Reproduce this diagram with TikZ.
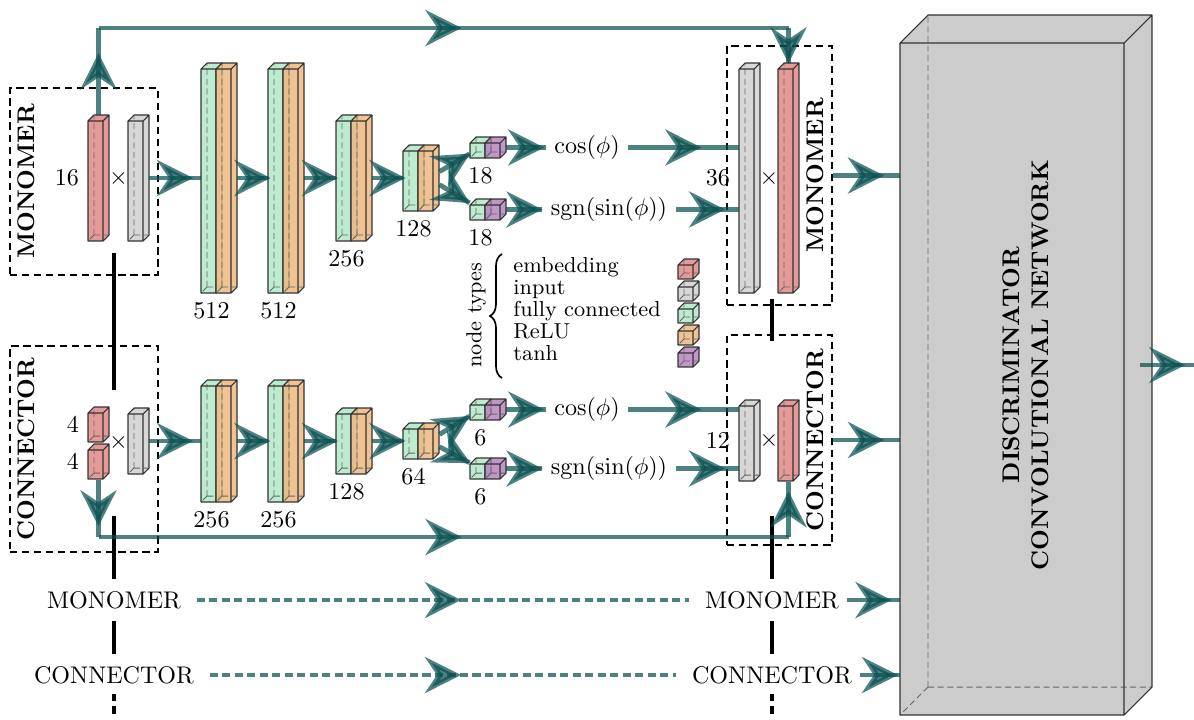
\documentclass[tikz,border=0pt]{standalone}
\usepackage{amsmath}
\usepackage{xcolor}
\usetikzlibrary{arrows.meta, positioning, fit, calc, decorations.markings, decorations.pathreplacing}

\definecolor{edgecol}{RGB}{10,80,80}
\definecolor{embcol}{RGB}{225,135,135}
\definecolor{inpcol}{RGB}{208,208,208}
\definecolor{fccol}{RGB}{178,232,200}
\definecolor{relucol}{RGB}{236,184,128}
\definecolor{tanhcol}{RGB}{184,132,190}
\definecolor{disccol}{RGB}{204,204,204}

% 3D layer box: [depth] name, x, y (front top left), width, height, fill
\newcommand{\layerbox}[7][6]{
  \fill[boxface, #7] (#3,#4) rectangle ++(#5,#6);
  \fill[boxface, #7] (#3,#4) -- ++(#1,-#1) -- ++(#5,0) -- ++(-#1,#1) -- cycle;
  \fill[boxface, #7] (#3+#5,#4) -- ++(#1,-#1) -- ++(0,#6) -- ++(-#1,#1) -- cycle;
  \draw[boxhidden] (#3+#1,#4+#6-#1) -- ++(0,-#6) (#3+#1,#4+#6-#1) -- ++(#5,0) (#3+#1,#4+#6-#1) -- ++(-#1,#1);
  \draw[boxedge] (#3,#4) rectangle ++(#5,#6) (#3,#4) -- ++(#1,-#1) -- ++(#5,0) -- ++(-#1,#1) ++(#1,-#1) -- ++(0,#6) -- ++(-#1,#1);
  \node[fit={(#3,#4-#1) (#3+#5+#1,#4+#6)}, inner sep=0pt] (#2) {};
}

\begin{document}
\begin{tikzpicture}[
    x=0.0146cm, y=-0.0146cm,
    boxface/.style={fill opacity=0.85},
    boxedge/.style={draw=black!80, line width=0.45pt, line join=round},
    boxhidden/.style={draw=black!60, line width=0.4pt, dash pattern=on 2.5pt off 1.5pt},
    grp/.style={draw, line width=0.45pt, dash pattern=on 3pt off 2pt, inner sep=0pt},
    grplabel/.style={rotate=90, font=\bfseries},
    conn/.style={line width=2pt, draw=edgecol, opacity=0.72,
        postaction={decorate, decoration={markings,
            mark=at position 0.5 with {\arrow[xshift=7.5pt]{Stealth[length=15pt, width=15pt, inset=5pt]}}}}},
    dconn/.style={conn, dash pattern=on 3.4pt off 1.8pt, shorten <=3pt, shorten >=3pt},
    timeline/.style={line width=1.6pt, draw=black},
    tailline/.style={timeline, dash pattern=on 3pt off 2pt},
    legtext/.style={anchor=base west, font=\small, inner sep=0pt},
    legbrace/.style={decorate, decoration={brace, amplitude=5pt}, line width=0.7pt}
]
\useasboundingbox (0,0) rectangle (1194,719);

% Group frames
\node[grp, fit={(10,88) (158,275)}] (mondL) {};
\node[grp, fit={(10,346) (158,552)}] (condL) {};
\node[grp, fit={(727,46) (832,305)}] (mondR) {};
\node[grp, fit={(727,335) (832,545)}] (condR) {};
\node[grplabel, anchor=north] at (mondL.west) {MONOMER};
\node[grplabel, anchor=north] at (condL.west) {CONNECTOR};
\node[grplabel, anchor=south] at (mondR.east) {MONOMER};
\node[grplabel, anchor=south] at (condR.east) {CONNECTOR};

% Monomer branch
\layerbox{monemb}{88}{121}{15}{120}{embcol}
\layerbox{moninp}{128}{121}{15}{120}{inpcol}
\layerbox{fcA}{201}{69}{15}{224}{fccol}
\layerbox{reA}{216}{69}{15}{224}{relucol}
\layerbox{fcB}{268}{69}{15}{224}{fccol}
\layerbox{reB}{283}{69}{15}{224}{relucol}
\layerbox{fcC}{336}{121}{15}{120}{fccol}
\layerbox{reC}{351}{121}{15}{120}{relucol}
\layerbox{fcD}{403}{151}{15}{60}{fccol}
\layerbox{reD}{418}{151}{15}{60}{relucol}
\layerbox{fcCos}{470}{143}{15}{15}{fccol}
\layerbox{thCos}{485}{143}{15}{15}{tanhcol}
\layerbox{fcSin}{470}{205}{15}{15}{fccol}
\layerbox{thSin}{485}{205}{15}{15}{tanhcol}
\layerbox{moninpR}{739}{69}{15}{224}{inpcol}
\layerbox{monembR}{778}{69}{15}{224}{embcol}

\node[left=0pt of monemb] {16};
\node at ($(monemb.east)!0.5!(moninp.west)$) {$\times$};
\node[below=0pt of fcA] {512};
\node[below=0pt of fcB] {512};
\node[below=0pt of fcC] {256};
\node[below=0pt of fcD] {128};
\node[below=0pt of fcCos] {18};
\node[below=0pt of fcSin] {18};
\node (cosA) at (587,147.5) {$\cos(\phi)$};
\node (sgnA) at (609,209.5) {$\operatorname{sgn}(\sin(\phi))$};
\node[left=0pt of moninpR] {36};
\node at ($(moninpR.east)!0.5!(monembR.west)$) {$\times$};

% Connector branch
\layerbox{conembA}{88}{413}{15}{29}{embcol}
\layerbox{conembB}{88}{450}{15}{29}{embcol}
\layerbox{coninp}{128}{414}{15}{60}{inpcol}
\layerbox{fcE}{201}{386}{15}{116}{fccol}
\layerbox{reE}{216}{386}{15}{116}{relucol}
\layerbox{fcF}{268}{386}{15}{116}{fccol}
\layerbox{reF}{283}{386}{15}{116}{relucol}
\layerbox{fcG}{336}{414}{15}{60}{fccol}
\layerbox{reG}{351}{414}{15}{60}{relucol}
\layerbox{fcH}{403}{429}{15}{30}{fccol}
\layerbox{reH}{418}{429}{15}{30}{relucol}
\layerbox{fcCosB}{470}{405}{15}{15}{fccol}
\layerbox{thCosB}{485}{405}{15}{15}{tanhcol}
\layerbox{fcSinB}{470}{464}{15}{15}{fccol}
\layerbox{thSinB}{485}{464}{15}{15}{tanhcol}
\layerbox{coninpR}{739}{406}{15}{75}{inpcol}
\layerbox{conembR}{778}{406}{15}{75}{embcol}

\node[left=0pt of conembA] {4};
\node[left=0pt of conembB] {4};
\node at ($(conembB.north east)!0.5!(coninp.west)$) {$\times$};
\node[below=0pt of fcE] {256};
\node[below=0pt of fcF] {256};
\node[below=0pt of fcG] {128};
\node[below=0pt of fcH] {64};
\node[below=0pt of fcCosB] {6};
\node[below=0pt of fcSinB] {6};
\node (cosB) at (587,409.5) {$\cos(\phi)$};
\node (sgnB) at (609,468.5) {$\operatorname{sgn}(\sin(\phi))$};
\node[left=0pt of coninpR] {12};
\node at ($(coninpR.east)!0.5!(conembR.west)$) {$\times$};

% Discriminator
\layerbox[28]{disc}{900}{43}{224}{672}{disccol, fill opacity=1}
\node[font=\bfseries, rotate=90, align=center] at (disc) {DISCRIMINATOR\\CONVOLUTIONAL NETWORK};
\coordinate (out) at (1194,365);

% Legend
\node[rotate=90, font=\small, inner sep=1pt] (ntypes) at (476,315) {node types};
\coordinate (brtop) at (502,254);
\coordinate (brbot) at (502,378);
\draw[legbrace] (brbot) -- (brtop);
\foreach \lab/\col [count=\i] in {embedding/embcol, input/inpcol, fully connected/fccol, ReLU/relucol, tanh/tanhcol}{
  \node[legtext] (leg\i) at (513,250.5+22*\i) {\lab};
  \layerbox{legc\i}{678}{243+22*\i}{15}{14}{\col}
}

% Sequence labels
\node (montxtL) at (114,600) {MONOMER};
\node (contxtL) at (114,675) {CONNECTOR};
\node (montxtR) at (772,600) {MONOMER};
\node (contxtR) at (772,675) {CONNECTOR};

% Sequence lines
\draw[timeline] ($(monemb.south -| montxtL)+(0,12)$) -- ($(conembA.north -| montxtL)+(0,-17)$);
\draw[timeline, shorten >=1.5pt] ($(conembB.south -| montxtL)+(0,36)$) -- (montxtL);
\draw[timeline, shorten <=1.5pt, shorten >=1.5pt] (montxtL) -- (contxtL);
\draw[tailline] (contxtL.south) ++(0,2) -- ++(0,22);
\draw[timeline] ($(mondR.south -| montxtR)+(0,-7)$) -- ($(condR.north -| montxtR)+(0,7)$);
\draw[timeline, shorten >=1.5pt] ($(conembR.south -| montxtR)+(0,34)$) -- (montxtR);
\draw[timeline, shorten <=1.5pt, shorten >=1.5pt] (montxtR) -- (contxtR);
\draw[tailline] (contxtR.south) ++(0,2) -- ++(0,22);

% Monomer flow
\draw[conn] (moninp) -- (fcA);
\draw[conn] (reA) -- (fcB);
\draw[conn] (reB) -- (fcC);
\draw[conn] (reC) -- (fcD);
\draw[conn] (reD) -- (fcCos);
\draw[conn] (reD) -- (fcSin);
\draw[conn] (thCos) -- (thCos -| cosA.west);
\draw[conn] (thSin) -- (thSin -| sgnA.west);
\draw[conn] (cosA) -- (cosA -| moninpR.west);
\draw[conn] (sgnA) -- (sgnA -| moninpR.west);

% Connector flow
\draw[conn] (coninp) -- (fcE);
\draw[conn] (reE) -- (fcF);
\draw[conn] (reF) -- (fcG);
\draw[conn] (reG) -- (fcH);
\draw[conn] (reH) -- (fcCosB);
\draw[conn] (reH) -- (fcSinB);
\draw[conn] (thCosB) -- (thCosB -| cosB.west);
\draw[conn] (thSinB) -- (thSinB -| sgnB.west);
\draw[conn] (cosB) -- (cosB -| coninpR.west);
\draw[conn] (sgnB) -- (sgnB -| coninpR.west);

% Embedding skip rails
\coordinate (railT) at (0,28);
\coordinate (railB) at (0,537);
\draw[conn] (monemb.north) -- (monemb.north |- railT);
\draw[conn] (monemb.north |- railT) -- (monembR.north |- railT);
\draw[conn] (monembR.north |- railT) -- (monembR.north);
\draw[conn] (conembB.south) -- (conembB.south |- railB);
\draw[conn] (conembB.south |- railB) -- (conembR.south |- railB);
\draw[conn] (conembR.south |- railB) -- (conembR.south);

% Into the discriminator
\draw[conn] (mondR) -- (mondR -| disc.west);
\draw[conn] (condR) -- (condR -| disc.west);
\draw[dconn] (montxtL) -- (montxtR);
\draw[dconn] (contxtL) -- (contxtR);
\draw[conn] (montxtR) -- (montxtR -| disc.west);
\draw[conn] (contxtR) -- (contxtR -| disc.west);
\draw[conn] ([xshift=-5pt]disc.east) -- (out);
\end{tikzpicture}
\end{document}
